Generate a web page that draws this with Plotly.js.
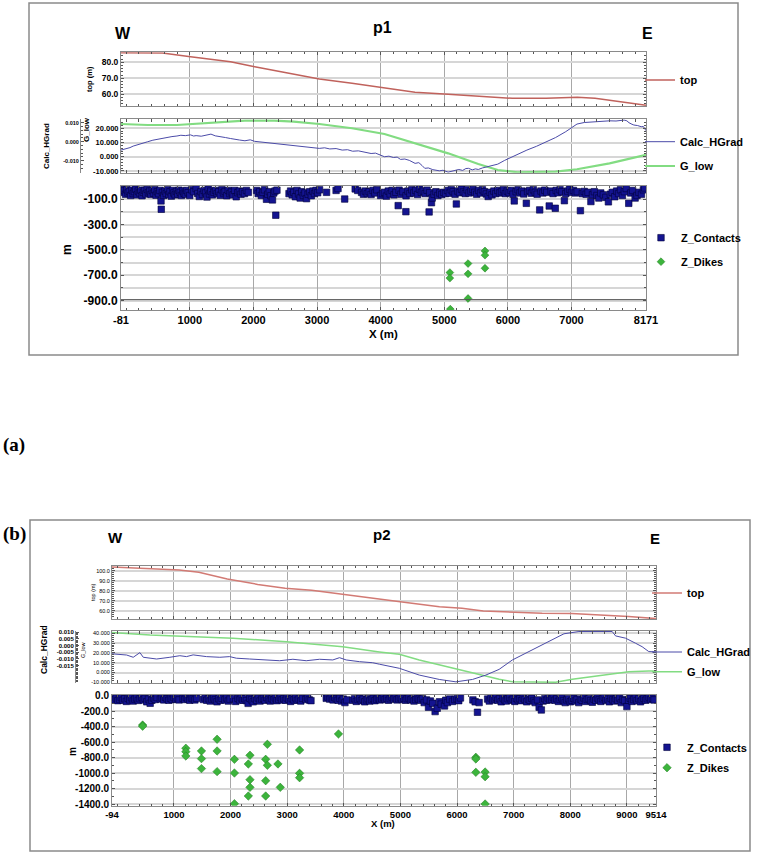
<!DOCTYPE html>
<html>
<head>
<meta charset="utf-8">
<script src="https://cdn.plot.ly/plotly-3.0.1.min.js"></script>
<style>html,body{margin:0;padding:0;background:#fff;}#chart{width:759px;height:855px;}</style>
</head>
<body>
<div id="chart"></div>
<script>
// ---------------- DATA : panel (a) profile p1 ----------------
const topA_x = [-81,300,570,1012,1640,2020,2630,3036,3550,4060,4540,5060,5690,6070,6600,7090,7370,7750,8171];
const topA_y = [86.0,86.0,85.8,83.5,80.4,77.3,72.7,69.6,66.9,63.8,61.3,60.0,58.5,57.5,57.5,58.1,57.5,55.4,53.2];

const hgradA_x = [-81,0,60,110,180,250,339,420,500,568,650,720,798,860,930,1012,1060,1100,1180,1250,1333,1400,1485,1560,1638,1700,1780,1867,1950,2020,2100,2180,2250,2326,2400,2480,2560,2632,2700,2780,2860,2950,3036,3120,3200,3300,3396,3480,3560,3650,3778,3850,3920,4000,4060,4130,4200,4260,4312,4380,4450,4542,4600,4650,4694,4750,4820,4924,4980,5061,5120,5170,5229,5290,5340,5382,5440,5490,5535,5600,5688,5760,5841,5950,6070,6180,6299,6450,6605,6750,6910,7000,7086,7200,7369,7480,7598,7700,7827,7870,7904,7950,7980,8040,8095,8130,8148,8171];
const hgradA_y = [-0.0044,-0.0038,-0.0031,-0.0023,-0.0015,-0.0008,0.0000,0.0008,0.0014,0.0018,0.0022,0.0027,0.0030,0.0034,0.0032,0.0036,0.0030,0.0032,0.0029,0.0035,0.0040,0.0031,0.0028,0.0022,0.0017,0.0012,0.0009,0.0005,0.0010,0.0002,-0.0001,-0.0004,-0.0008,-0.0012,-0.0015,-0.0017,-0.0020,-0.0023,-0.0025,-0.0028,-0.0030,-0.0033,-0.0035,-0.0032,-0.0038,-0.0036,-0.0044,-0.0042,-0.0050,-0.0048,-0.0058,-0.0062,-0.0060,-0.0070,-0.0079,-0.0076,-0.0083,-0.0081,-0.0093,-0.0091,-0.0098,-0.0114,-0.0110,-0.0125,-0.0140,-0.0138,-0.0147,-0.0153,-0.0150,-0.0160,-0.0156,-0.0149,-0.0146,-0.0151,-0.0141,-0.0140,-0.0148,-0.0143,-0.0146,-0.0138,-0.0132,-0.0126,-0.0118,-0.0098,-0.0079,-0.0062,-0.0044,-0.0024,0.0000,0.0022,0.0053,0.0072,0.0093,0.0101,0.0105,0.0108,0.0110,0.0109,0.0114,0.0110,0.0100,0.0092,0.0088,0.0085,0.0079,0.0080,0.0068,0.0058];

const glowA_x = [-81,339,798,1180,1485,1867,2326,2632,3036,3550,4060,4542,5061,5535,5841,6150,6450,6750,7086,7598,8171];
const glowA_y = [23.0,22.3,22.3,23.5,24.5,25.4,25.4,24.7,23.0,20.0,16.0,9.5,2.4,-5.1,-9.3,-10.9,-10.9,-10.4,-8.8,-4.6,1.3];

const contA_x = [-70,-50,-30,-10,10,30,50,70,90,110,130,150,170,190,210,230,250,270,290,310,330,350,370,390,410,430,450,470,490,510,530,548,552,570,590,610,630,650,670,690,710,730,750,770,790,810,830,850,870,890,910,930,950,975,1000,1030,1060,1100,1125,1150,1175,1200,1225,1250,1270,1290,1310,1330,1355,1380,1405,1430,1455,1480,1505,1530,1555,1580,1605,1630,1655,1680,1705,1730,1755,1780,1805,1830,1860,1890,1920,2050,2075,2100,2125,2150,2175,2206,2225,2250,2275,2300,2320,2340,2352,2370,2560,2585,2610,2635,2660,2685,2710,2735,2760,2785,2810,2835,2860,2885,2910,2935,2960,2985,3010,3040,3150,3300,3330,3435,3600,3640,3700,3730,3760,3790,3820,3850,3880,3910,3940,4000,4030,4060,4090,4120,4150,4180,4210,4240,4276,4290,4320,4350,4397,4400,4430,4460,4490,4520,4550,4580,4610,4640,4670,4700,4730,4762,4770,4799,4810,4840,4870,4900,4930,4960,4990,5020,5050,5080,5110,5140,5170,5190,5210,5240,5270,5300,5330,5360,5390,5420,5450,5480,5510,5540,5570,5600,5630,5660,5690,5720,5750,5780,5810,5840,5870,5900,5930,5960,5990,6020,6050,6080,6100,6130,6160,6190,6220,6250,6290,6310,6340,6370,6400,6430,6460,6500,6520,6550,6580,6610,6650,6680,6710,6745,6760,6790,6820,6850,6888,6910,6940,6970,7000,7030,7060,7090,7140,7170,7200,7230,7260,7305,7330,7360,7400,7430,7460,7500,7540,7580,7610,7640,7680,7710,7740,7770,7800,7830,7860,7900,7930,7960,8000,8030,8060,8100,8130,8150];
const contA_y = [-22,-45,-30,-60,-25,-50,-38,-70,-28,-55,-40,-20,-65,-35,-50,-28,-72,-45,-30,-58,-22,-48,-35,-62,-30,-52,-25,-68,-40,-55,-30,-113,-179,-45,-70,-35,-55,-25,-62,-40,-75,-30,-50,-65,-38,-58,-28,-45,-70,-35,-52,-60,-30,-48,-70,-25,-40,-15,-55,-78,-40,-62,-30,-50,-82,-20,-58,-35,-65,-45,-30,-55,-40,-68,-25,-50,-38,-72,-30,-55,-42,-65,-30,-80,-48,-35,-60,-40,-55,-30,-45,-30,-55,-40,-70,-45,-25,-100,-60,-40,-72,-105,-50,-35,-226,-28,-55,-35,-65,-45,-80,-30,-58,-90,-40,-70,-50,-95,-60,-40,-72,-35,-55,-30,-48,-25,-45,-30,-15,-98,-18,-30,-45,-60,-35,-55,-40,-62,-30,-50,-25,-70,-55,-45,-75,-35,-58,-30,-65,-45,-150,-28,-60,-40,-198,-72,-35,-55,-25,-50,-30,-62,-20,-45,-35,-55,-28,-200,-48,-127,-90,-60,-40,-70,-50,-62,-45,-55,-30,-52,-25,-40,-60,-137,-35,-48,-20,-42,-55,-25,-50,-35,-22,-45,-60,-30,-50,-25,-40,-58,-78,-45,-65,-35,-55,-30,-50,-40,-25,-55,-35,-48,-30,-60,-113,-40,-25,-50,-35,-58,-132,-40,-30,-52,-25,-45,-60,-184,-35,-50,-28,-45,-153,-35,-55,-171,-30,-48,-25,-40,-111,-55,-35,-20,-45,-30,-50,-40,-190,-55,-38,-60,-45,-118,-65,-40,-70,-90,-50,-65,-85,-120,-60,-45,-80,-35,-55,-25,-70,-40,-15,-132,-50,-30,-90,-70,-45,-60,-25,-10];

const dikeA_x = [5088,5088,5095,5374,5374,5374,5640,5640,5640];
const dikeA_y = [-679,-723,-968,-608,-689,-884,-508,-542,-645];

const xTicksA = [-81,1000,2000,3000,4000,5000,6000,7000,8171];

// ---------------- DATA : panel (b) profile p2 ----------------
const topB_x = [-94,400,1093,1440,1942,2479,2964,3432,3969,4558,5065,5689,6088,6464,7002,7504,8024,8544,9029,9514];
const topB_y = [103.6,102.3,100.7,98.4,91.7,86.4,82.5,80.5,76.5,71.9,68.6,64.3,62.6,60.0,58.7,57.7,57.4,56.0,54.4,52.4];

const hgradB_x = [-94,-41,165,281,399,458,694,928,1104,1222,1339,1575,1810,1985,2103,2338,2632,2866,3101,3337,3571,3806,3924,4042,4276,4510,4628,4981,5333,5686,5980,6273,6509,6743,6978,7214,7448,7682,7888,8153,8447,8740,8800,8976,9152,9268,9386,9514];
const hgradB_y = [-0.0062,-0.0065,-0.0071,-0.0088,-0.0053,-0.0088,-0.0101,-0.0088,-0.0076,-0.0083,-0.0070,-0.0083,-0.0088,-0.0083,-0.0095,-0.0101,-0.0108,-0.0114,-0.0103,-0.0114,-0.0103,-0.0108,-0.0091,-0.0108,-0.0121,-0.0129,-0.0140,-0.0171,-0.0222,-0.0255,-0.0273,-0.0255,-0.0222,-0.0179,-0.0108,-0.0058,-0.0008,0.0043,0.0089,0.0106,0.0106,0.0106,0.0073,0.0056,0.0018,-0.0008,-0.0045,-0.0048];

const glowB_x = [-94,-41,576,986,2043,2984,3982,4628,4981,5333,5686,6038,6391,6743,6978,7330,7742,8035,8387,8740,9034,9386,9514];
const glowB_y = [40.7,40.6,38.3,37.2,34.9,31.4,26.3,21.0,18.5,12.8,7.7,2.6,-2.6,-6.9,-9.4,-10.0,-10.0,-6.9,-4.3,-1.5,0.8,1.5,1.5];

const contB_x = [-80,-50,-20,10,40,70,100,130,160,190,220,250,280,310,340,370,400,430,460,490,520,550,580,610,640,670,700,760,790,820,850,880,910,940,970,1000,1030,1060,1090,1160,1190,1220,1250,1280,1310,1340,1370,1400,1520,1550,1580,1610,1640,1670,1700,1730,1760,1790,1820,1850,1900,1930,1960,1990,2050,2090,2130,2160,2190,2220,2250,2280,2310,2340,2370,2400,2430,2460,2490,2520,2550,2580,2610,2640,2670,2700,2730,2760,2790,2820,2850,2880,2910,2940,2970,3000,3030,3060,3090,3120,3150,3180,3210,3240,3270,3330,3360,3390,3420,3690,3720,3750,3780,3810,3840,3870,3900,3930,3960,3990,4020,4050,4160,4190,4220,4250,4280,4310,4340,4370,4400,4430,4460,4490,4520,4550,4580,4610,4640,4670,4700,4730,4760,4790,4820,4850,4880,4910,4940,4970,5000,5030,5060,5090,5120,5150,5180,5210,5240,5270,5300,5330,5360,5390,5420,5460,5496,5530,5570,5613,5650,5690,5720,5779,5800,5830,5870,5920,5960,6000,6030,6060,6280,6320,6361,6390,6540,6570,6600,6630,6660,6690,6720,6750,6780,6810,6840,6870,6900,6930,6960,6990,7020,7050,7080,7110,7140,7170,7200,7230,7260,7290,7320,7350,7380,7420,7450,7489,7520,7550,7580,7610,7640,7670,7700,7730,7760,7790,7820,7850,7880,7910,7940,7970,8000,8030,8060,8090,8120,8150,8180,8210,8240,8270,8300,8330,8360,8390,8420,8450,8480,8510,8540,8570,8600,8630,8660,8690,8720,8750,8780,8810,8840,8870,8900,8930,8960,9000,9030,9060,9090,9120,9150,9180,9210,9240,9270,9300,9330,9360,9390,9420,9450,9480];
const contB_y = [-40,-55,-30,-65,-45,-25,-60,-40,-75,-35,-55,-28,-70,-45,-30,-62,-40,-20,-55,-35,-80,-45,-99,-60,-30,-50,-25,-45,-30,-55,-20,-40,-60,-35,-50,-25,-45,-30,-55,-35,-50,-25,-45,-60,-30,-40,-55,-35,-50,-30,-60,-40,-70,-45,-30,-55,-80,-40,-60,-35,-55,-30,-70,-45,-40,-75,-35,-55,-30,-60,-40,-65,-100,-35,-55,-80,-40,-60,-30,-70,-45,-35,-60,-25,-50,-70,-40,-55,-30,-65,-45,-25,-55,-40,-60,-30,-50,-75,-40,-55,-30,-60,-45,-70,-35,-50,-30,-55,-65,-35,-20,-45,-30,-55,-25,-40,-60,-35,-70,-45,-90,-55,-60,-40,-75,-50,-35,-65,-45,-80,-55,-40,-70,-50,-35,-65,-45,-30,-55,-40,-25,-50,-35,-60,-40,-20,-45,-30,-55,-40,-25,-50,-35,-60,-40,-30,-55,-45,-70,-50,-30,-45,-60,-40,-90,-55,-150,-70,-100,-206,-163,-80,-110,-133,-60,-90,-45,-75,-50,-40,-65,-30,-55,-80,-215,-90,-45,-70,-30,-55,-40,-20,-60,-40,-80,-30,-55,-70,-40,-25,-60,-45,-75,-35,-55,-40,-65,-30,-50,-80,-45,-60,-35,-70,-90,-55,-150,-185,-70,-40,-60,-30,-55,-45,-25,-60,-40,-75,-50,-30,-65,-90,-55,-40,-80,-60,-35,-70,-50,-90,-45,-60,-30,-75,-50,-40,-65,-85,-45,-60,-30,-55,-75,-40,-20,-60,-45,-80,-35,-55,-70,-40,-60,-30,-90,-50,-65,-142,-60,-35,-75,-50,-30,-65,-40,-80,-55,-35,-60,-40,-20,-50,-35,-55];

const dikeB_x = [447,447,1210,1210,1210,1486,1486,1486,1762,1762,1762,2068,2068,2068,2314,2343,2343,2343,2314,2620,2650,2650,2620,2620,2837,2878,3219,3219,3219,3906,6332,6332,6332,6496,6496,6496];
const dikeB_y = [-380,-395,-680,-724,-780,-715,-814,-943,-564,-715,-982,-823,-1000,-1396,-883,-771,-1086,-1185,-1297,-823,-629,-900,-1099,-1297,-883,-1185,-702,-1004,-1060,-495,-797,-818,-991,-987,-1047,-1400];

const xTicksB = [-94,1000,2000,3000,4000,5000,6000,7000,8000,9000,9514];

// ---------------- helpers (layout only) ----------------
const W = 759, H = 855;
const fx = p => p / W;
const fy = p => 1 - p / H;
const FONT = 'Liberation Sans, Arial, sans-serif';
const f = (size, bold, color) => ({family: FONT, size: size, color: color || '#000', weight: bold ? 'bold' : 'normal'});
const fmt = (arr, d) => arr.map(v => v.toFixed(d));

const C_TOP = '#c0625c', C_TOPB = '#d27a74', C_HG = '#4b4ba8', C_GL = '#82dc82', C_CT = '#141490', C_DK = '#3cb43c';

const traces = [
  {type:'scatter', mode:'lines', name:'top', x:topA_x, y:topA_y, xaxis:'x', yaxis:'y', line:{color:C_TOP, width:1.5}, legend:'legend'},
  {type:'scatter', mode:'lines', name:'G_low', x:glowA_x, y:glowA_y, xaxis:'x2', yaxis:'y2', line:{color:C_GL, width:2.2}, legend:'legend3'},
  {type:'scatter', mode:'lines', name:'Calc_HGrad', x:hgradA_x, y:hgradA_y, xaxis:'x2', yaxis:'y3', line:{color:C_HG, width:1}, legend:'legend2'},
  {type:'scatter', mode:'markers', name:'Z_Contacts', x:contA_x, y:contA_y, xaxis:'x3', yaxis:'y4', marker:{symbol:'square', size:6.5, color:C_CT, line:{color:'#00003a', width:0.6}}, legend:'legend4'},
  {type:'scatter', mode:'markers', name:'Z_Dikes', x:dikeA_x, y:dikeA_y, xaxis:'x3', yaxis:'y4', marker:{symbol:'diamond', size:6, color:C_DK, line:{color:'#1f7a1f', width:0.5}}, legend:'legend5'},

  {type:'scatter', mode:'lines', name:'top', x:topB_x, y:topB_y, xaxis:'x4', yaxis:'y5', line:{color:C_TOPB, width:1.5}, legend:'legend6'},
  {type:'scatter', mode:'lines', name:'G_low', x:glowB_x, y:glowB_y, xaxis:'x5', yaxis:'y6', line:{color:C_GL, width:1.5}, legend:'legend8'},
  {type:'scatter', mode:'lines', name:'Calc_HGrad', x:hgradB_x, y:hgradB_y, xaxis:'x5', yaxis:'y7', line:{color:C_HG, width:1}, legend:'legend7'},
  {type:'scatter', mode:'markers', name:'Z_Contacts', x:contB_x, y:contB_y, xaxis:'x6', yaxis:'y8', marker:{symbol:'square', size:6.5, color:C_CT, line:{color:'#00003a', width:0.6}}, legend:'legend9'},
  {type:'scatter', mode:'markers', name:'Z_Dikes', x:dikeB_x, y:dikeB_y, xaxis:'x6', yaxis:'y8', marker:{symbol:'diamond', size:6.5, color:C_DK, line:{color:'#1f7a1f', width:0.5}}, legend:'legend10'}
];

function xAxis(domain, range, ticks, anchor, showLabels, fsize) {
  return {
    domain: domain, range: range, anchor: anchor,
    tickmode: 'array', tickvals: ticks, ticktext: ticks.map(String),
    showticklabels: showLabels, tickfont: f(fsize, true),
    showgrid: true, gridcolor: '#a8a8a8', gridwidth: 1,
    showline: true, mirror: 'allticks', linecolor: '#8a8a8a', linewidth: 1,
    ticks: 'inside', ticklen: 3, tickcolor: '#555',
    minor: {ticks: 'inside', ticklen: 2, dtick: 200, tick0: 0, tickcolor: '#555', showgrid: false},
    zeroline: false, fixedrange: true
  };
}
function yAxis(domain, range, ticks, dec, anchor, fsize, bold, minorDtick, minorGrid) {
  return {
    domain: domain, range: range, anchor: anchor,
    tickmode: 'array', tickvals: ticks, ticktext: fmt(ticks, dec),
    tickfont: f(fsize, bold),
    showgrid: true, gridcolor: '#d6d6d6', gridwidth: 2,
    showline: true, mirror: 'allticks', linecolor: '#8a8a8a', linewidth: 1,
    ticks: 'inside', ticklen: 3, tickcolor: '#555',
    minor: {ticks: 'inside', ticklen: 2, dtick: minorDtick, tick0: 0, tickcolor: '#555', showgrid: !!minorGrid, gridcolor: '#d6d6d6', gridwidth: 2},
    zeroline: false, fixedrange: true
  };
}
function overlayAxis(over, pos, range, ticks, dec, fsize, bold, minorDtick) {
  return {
    overlaying: over, anchor: 'free', position: pos, side: 'left', range: range,
    tickmode: 'array', tickvals: ticks, ticktext: fmt(ticks, dec), tickfont: f(fsize, bold),
    showgrid: false, showline: true, linecolor: '#8a8a8a', linewidth: 1,
    ticks: 'inside', ticklen: 3, tickcolor: '#555',
    minor: {ticks: 'inside', ticklen: 2, dtick: minorDtick, tick0: 0, tickcolor: '#555'},
    zeroline: false, fixedrange: true
  };
}
function leg(textX, textY, size) {
  return {x: fx(textX - 38), y: fy(textY), xanchor: 'left', yanchor: 'middle', xref: 'paper', yref: 'paper',
          font: f(size, true), bgcolor: 'rgba(0,0,0,0)', borderwidth: 0, itemwidth: 30};
}
function ann(text, px, py, size, bold, angle, family) {
  return {text: text, x: fx(px), y: fy(py), xref: 'paper', yref: 'paper', showarrow: false,
          xanchor: 'center', yanchor: 'middle', textangle: angle || 0,
          font: {family: family || FONT, size: size, color: '#000', weight: bold ? 'bold' : 'normal'}};
}

const XA = [fx(121), fx(646)], XB = [fx(112), fx(656)];
const dom = (top, bot) => [fy(bot), fy(top)];

const layout = {
  width: W, height: H, margin: {l: 0, r: 0, t: 0, b: 0},
  paper_bgcolor: '#fff', plot_bgcolor: '#fff', showlegend: true,
  font: f(11, false),

  // panel (a)
  xaxis:  xAxis(XA, [-81, 8171], xTicksA, 'y', false, 11),
  xaxis2: xAxis(XA, [-81, 8171], xTicksA, 'y2', false, 11),
  xaxis3: xAxis(XA, [-81, 8171], xTicksA, 'y4', true, 11),
  yaxis:  yAxis(dom(52.3, 106), [52.7, 86.3], [60, 70, 80], 1, 'x', 8.5, true, 2),
  yaxis2: yAxis(dom(119.3, 172.7), [-11.2, 26.3], [-10, 0, 10, 20], 3, 'x2', 7.5, true, 2),
  yaxis3: overlayAxis('y2', fx(80), [-0.0163, 0.0118], [-0.01, 0, 0.01], 3, 5.5, true, 0.002),
  yaxis4: yAxis(dom(186, 310), [-975, 5], [-100, -300, -500, -700, -900], 1, 'x3', 12, true, 100, true),

  // panel (b)
  xaxis4: xAxis(XB, [-94, 9514], xTicksB, 'y5', false, 9),
  xaxis5: xAxis(XB, [-94, 9514], xTicksB, 'y6', false, 9),
  xaxis6: xAxis(XB, [-94, 9514], xTicksB, 'y8', true, 9.5),
  yaxis5: yAxis(dom(566, 619), [52, 104.7], [60, 70, 80, 90, 100], 1, 'x4', 5.5, false, 2),
  yaxis6: yAxis(dom(631, 683.3), [-11, 42.3], [-10, 0, 10, 20, 30, 40], 3, 'x5', 5.5, false, 2),
  yaxis7: overlayAxis('y6', fx(75), [-0.0284, 0.011], [-0.015, -0.01, -0.005, 0, 0.005, 0.01], 3, 6, true, 0.001),
  yaxis8: yAxis(dom(695, 805.7), [-1422, 8], [0, -200, -400, -600, -800, -1000, -1200, -1400], 1, 'x6', 10, true, 100),

  legend:   leg(678, 80, 11),
  legend2:  leg(678, 141.7, 11),
  legend3:  leg(678, 166, 11),
  legend4:  leg(679, 237.7, 11),
  legend5:  leg(679, 261.7, 11),
  legend6:  leg(685, 593, 11),
  legend7:  leg(685, 652, 11),
  legend8:  leg(685, 671.7, 11),
  legend9:  leg(685, 747.3, 11),
  legend10: leg(685, 767.7, 11),

  shapes: [
    {type: 'rect', xref: 'paper', yref: 'paper', x0: fx(29), x1: fx(738), y0: fy(355), y1: fy(3), line: {color: '#8a8a8a', width: 1.5}},
    {type: 'rect', xref: 'paper', yref: 'paper', x0: fx(30), x1: fx(750), y0: fy(851), y1: fy(520), line: {color: '#8a8a8a', width: 1.5}},
    {type: 'line', xref: 'x3 domain', yref: 'y4', x0: 0, x1: 1, y0: -893, y1: -893, line: {color: '#555', width: 1}}
  ],

  annotations: [
    ann('W', 123, 33, 16, true), ann('p1', 382, 28, 16, true), ann('E', 647, 34, 16, true),
    ann('top (m)', 89, 79, 7.5, true, -90),
    ann('Calc_HGrad', 46, 146, 8, true, -90),
    ann('G_low', 86, 130, 8, true, -90),
    ann('m', 67, 250, 12, true, -90),
    ann('X (m)', 383, 334, 11.5, true),
    ann('(a)', 14, 445, 19, true, 0, 'Liberation Serif, Times New Roman, serif'),

    ann('(b)', 14, 534, 19, true, 0, 'Liberation Serif, Times New Roman, serif'),
    ann('W', 116, 537, 15, true), ann('p2', 382, 534, 15, true), ann('E', 655, 538, 15, true),
    ann('top (m)', 93, 592, 5.5, false, -90),
    ann('Calc_HGrad', 44, 650, 8.5, true, -90),
    ann('G_low', 83, 650, 5.5, false, -90),
    ann('m', 72, 752, 10, true, -90),
    ann('X (m)', 383, 823, 9.5, true)
  ]
};

Plotly.newPlot('chart', traces, layout, {staticPlot: true, displayModeBar: false});
</script>
</body>
</html>
